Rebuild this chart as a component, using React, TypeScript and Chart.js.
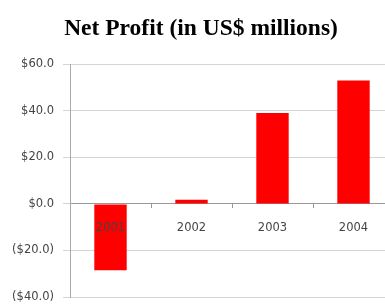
import React, { useEffect, useRef } from "react";
import { Chart, registerables } from "chart.js";

Chart.register(...registerables);

const categories = ["2001", "2002", "2003", "2004"];
const netProfit = [-28.5, 1.8, 39, 53];
const yTickValues = [60, 40, 20, 0, -20, -40];

function fmt(v: number): string {
  const s = "$" + Math.abs(v).toFixed(1);
  return v < 0 ? "(" + s + ")" : s;
}

export default function App() {
  const ref = useRef<HTMLCanvasElement | null>(null);
  useEffect(() => {
    if (!ref.current) return;
    const chart = new Chart(ref.current, {
      type: "bar",
      data: {
        labels: categories,
        datasets: [
          {
            data: netProfit,
            backgroundColor: "#ff0000",
            borderWidth: 0,
            barPercentage: 0.8,
            categoryPercentage: 0.5,
          },
        ],
      },
      options: {
        animation: false,
        responsive: false,
        maintainAspectRatio: false,
        layout: { padding: { top: 0, left: 8, right: 0, bottom: 8 } },
        plugins: {
          legend: { display: false },
          tooltip: { enabled: false },
          title: {
            display: true,
            text: "Net Profit (in US$ millions)",
            color: "#000",
            font: { family: "Liberation Serif", size: 23.5, weight: "bold" },
            padding: { top: 15, bottom: 21 },
          },
        },
        scales: {
          x: {
            position: { y: 0 } as any,
            offset: true,
            grid: {
              drawOnChartArea: false,
              drawTicks: true,
              tickLength: 4,
              color: "#999",
              offset: true,
            },
            border: { display: true, color: "#999" },
            ticks: {
              z: 1,
              color: "#444",
              font: { family: "DejaVu Sans", size: 11.5 },
              padding: 13,
              maxRotation: 0,
            },
          },
          y: {
            min: -40,
            max: 60,
            afterBuildTicks: (axis: any) => {
              axis.ticks = yTickValues.map((v) => ({ value: v }));
            },
            afterFit: (axis: any) => {
              axis.width = 62;
              axis.paddingTop = 0;
              axis.paddingBottom = 0;
            },
            grid: {
              color: "#d4d4d4",
              tickLength: 7,
            },
            border: { display: true, color: "#aaa" },
            ticks: {
              color: "#444",
              font: { family: "DejaVu Sans", size: 11.5 },
              padding: 9,
              callback: (v: any) => fmt(Number(v)),
            },
          },
        },
      },
    });
    return () => chart.destroy();
  }, []);
  return (
    <div style={{ position: "absolute", left: 0, top: 0, width: 385, height: 305, overflow: "hidden", background: "#fff" }}>
      <canvas ref={ref} width={394} height={305} style={{ display: "block" }} />
    </div>
  );
}
